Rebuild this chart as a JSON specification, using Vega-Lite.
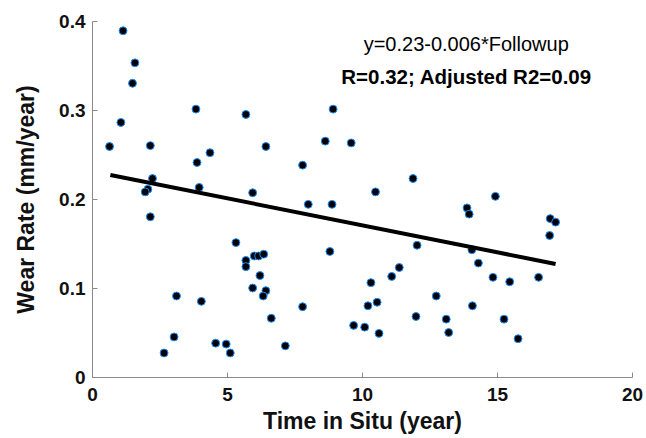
{
  "$schema": "https://vega.github.io/schema/vega-lite/v6.json",
  "autosize": {"type": "none"},
  "width": 540,
  "height": 356,
  "padding": {"left": 92, "top": 21, "right": 14, "bottom": 61},
  "background": "white",
  "config": {
    "view": {"stroke": null},
    "font": "Liberation Sans",
    "axis": {
      "grid": false,
      "domainColor": "#8a8a8a",
      "tickColor": "#8a8a8a",
      "tickSize": -5,
      "labelFlush": false,
      "labelFont": "Liberation Sans",
      "labelFontWeight": "bold",
      "labelFontSize": 19,
      "labelColor": "#111111",
      "titleFont": "Liberation Sans",
      "titleFontWeight": "bold",
      "titleFontSize": 23,
      "titleColor": "#111111"
    }
  },
  "layer": [
    {
      "data": {
        "values": [
          {"t": 0.65, "w": 0.259}, {"t": 1.07, "w": 0.286}, {"t": 1.15, "w": 0.389},
          {"t": 1.59, "w": 0.353}, {"t": 1.50, "w": 0.330}, {"t": 2.16, "w": 0.260},
          {"t": 2.24, "w": 0.223}, {"t": 2.07, "w": 0.211}, {"t": 1.97, "w": 0.208},
          {"t": 2.16, "w": 0.180}, {"t": 3.85, "w": 0.301}, {"t": 3.89, "w": 0.241},
          {"t": 3.97, "w": 0.213}, {"t": 4.37, "w": 0.252}, {"t": 5.70, "w": 0.295},
          {"t": 6.44, "w": 0.259}, {"t": 5.95, "w": 0.207}, {"t": 7.80, "w": 0.238},
          {"t": 8.64, "w": 0.265}, {"t": 8.01, "w": 0.194}, {"t": 8.89, "w": 0.194},
          {"t": 8.93, "w": 0.301}, {"t": 9.60, "w": 0.263}, {"t": 11.89, "w": 0.223},
          {"t": 10.50, "w": 0.208}, {"t": 14.94, "w": 0.203}, {"t": 13.89, "w": 0.190},
          {"t": 13.97, "w": 0.183}, {"t": 16.97, "w": 0.178}, {"t": 17.17, "w": 0.174},
          {"t": 5.33, "w": 0.151}, {"t": 5.70, "w": 0.131}, {"t": 5.70, "w": 0.124},
          {"t": 6.01, "w": 0.136}, {"t": 6.17, "w": 0.136}, {"t": 6.36, "w": 0.138},
          {"t": 6.22, "w": 0.114}, {"t": 5.95, "w": 0.100}, {"t": 6.44, "w": 0.097},
          {"t": 6.34, "w": 0.091}, {"t": 6.64, "w": 0.066}, {"t": 3.13, "w": 0.091},
          {"t": 4.05, "w": 0.085}, {"t": 3.04, "w": 0.045}, {"t": 2.67, "w": 0.027},
          {"t": 4.58, "w": 0.038}, {"t": 4.97, "w": 0.037}, {"t": 5.12, "w": 0.027},
          {"t": 7.16, "w": 0.035}, {"t": 7.80, "w": 0.079}, {"t": 8.81, "w": 0.141},
          {"t": 16.95, "w": 0.159}, {"t": 12.04, "w": 0.148}, {"t": 14.07, "w": 0.143},
          {"t": 14.31, "w": 0.128}, {"t": 11.38, "w": 0.123}, {"t": 11.10, "w": 0.113},
          {"t": 14.85, "w": 0.112}, {"t": 15.47, "w": 0.107}, {"t": 16.54, "w": 0.112},
          {"t": 10.33, "w": 0.106}, {"t": 12.75, "w": 0.091}, {"t": 10.56, "w": 0.084},
          {"t": 10.22, "w": 0.080}, {"t": 14.09, "w": 0.080}, {"t": 12.00, "w": 0.068},
          {"t": 13.12, "w": 0.065}, {"t": 15.26, "w": 0.065}, {"t": 9.69, "w": 0.058},
          {"t": 10.10, "w": 0.056}, {"t": 10.63, "w": 0.049}, {"t": 13.21, "w": 0.050},
          {"t": 15.78, "w": 0.043}
        ]
      },
      "mark": {"type": "point", "shape": "circle", "filled": true, "fill": "#000000", "stroke": "#1e90ff", "strokeWidth": 1, "size": 62, "opacity": 1},
      "encoding": {
        "x": {
          "field": "t", "type": "quantitative",
          "scale": {"domain": [0, 20], "nice": false, "zero": false},
          "axis": {"values": [0, 5, 10, 15, 20], "title": "Time in Situ (year)", "labelPadding": 13, "titlePadding": 6}
        },
        "y": {
          "field": "w", "type": "quantitative",
          "scale": {"domain": [0, 0.4], "nice": false},
          "axis": {"values": [0, 0.1, 0.2, 0.3, 0.4], "format": "~g", "title": "Wear Rate (mm/year)", "labelPadding": 12, "titlePadding": 20}
        }
      }
    },
    {
      "data": {"values": [{"t": 0.68, "w": 0.227}, {"t": 17.17, "w": 0.127}]},
      "mark": {"type": "line", "color": "#000000", "strokeWidth": 4},
      "encoding": {
        "x": {"field": "t", "type": "quantitative"},
        "y": {"field": "w", "type": "quantitative"}
      }
    },
    {
      "data": {"values": [
        {"t": 13.86, "w": 0.3726, "label": "y=0.23-0.006*Followup"}
      ]},
      "mark": {"type": "text", "fontSize": 20, "font": "Liberation Sans", "color": "#000000", "align": "center", "baseline": "middle"},
      "encoding": {
        "x": {"field": "t", "type": "quantitative"},
        "y": {"field": "w", "type": "quantitative"},
        "text": {"field": "label"}
      }
    },
    {
      "data": {"values": [
        {"t": 13.86, "w": 0.3363, "label": "R=0.32; Adjusted R2=0.09"}
      ]},
      "mark": {"type": "text", "fontSize": 20.5, "fontWeight": "bold", "font": "Liberation Sans", "color": "#000000", "align": "center", "baseline": "middle"},
      "encoding": {
        "x": {"field": "t", "type": "quantitative"},
        "y": {"field": "w", "type": "quantitative"},
        "text": {"field": "label"}
      }
    }
  ]
}
